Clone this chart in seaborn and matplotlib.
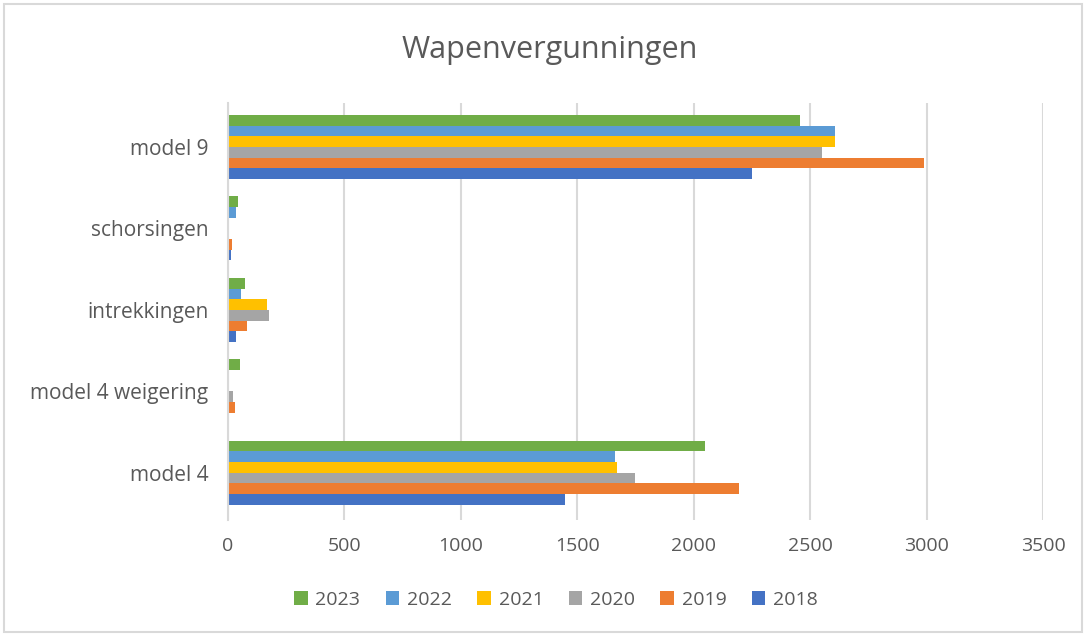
import pandas as pd
import seaborn as sns
import matplotlib.pyplot as plt
from matplotlib.patches import Rectangle

# categories top to bottom, as in the picture
categories = ['model 9', 'schorsingen', 'intrekkingen', 'model 4 weigering', 'model 4']
years = ['2023', '2022', '2021', '2020', '2019', '2018']

# values per year, same order as categories
v2023 = [2457, 44, 72, 50, 2050]
v2022 = [2605, 34, 56, 6, 1660]
v2021 = [2605, 0, 166, 5, 1672]
v2020 = [2550, 0, 176, 23, 1749]
v2019 = [2990, 17, 83, 29, 2195]
v2018 = [2249, 11, 34, 0, 1446]

colors = ['#70AD47', '#5B9BD5', '#FFC000', '#A5A5A5', '#ED7D31', '#4472C4']

rows = []
for year, vals in zip(years, [v2023, v2022, v2021, v2020, v2019, v2018]):
    for cat, v in zip(categories, vals):
        rows.append({'categorie': cat, 'jaar': year, 'aantal': v})
df = pd.DataFrame(rows)

sns.set_style('white')
plt.rcParams['font.family'] = ['Open Sans', 'DejaVu Sans']
text_col = '#595959'

fig = plt.figure(figsize=(10.87, 6.35), dpi=100)
ax = fig.add_axes([228 / 1087, 115 / 635, (1043 - 228) / 1087, (532 - 115) / 635])

sns.barplot(data=df, y='categorie', x='aantal', hue='jaar', order=categories,
            hue_order=years, palette=colors, orient='h', width=0.785,
            saturation=1, ax=ax, linewidth=0)

ax.set_xlim(0, 3500)
ax.set_ylim(4.58, -0.54)
ax.set_xticks(range(0, 3501, 500))
ax.grid(axis='x', color='#D9D9D9', linewidth=1.5)
ax.set_axisbelow(True)
for s in ['top', 'right', 'bottom']:
    ax.spines[s].set_visible(False)
ax.spines['left'].set_color('#D9D9D9')
ax.spines['left'].set_linewidth(1.5)
ax.set_xlabel('')
ax.set_ylabel('')
ax.tick_params(axis='both', length=0, colors=text_col)
ax.tick_params(axis='y', labelsize=15, pad=14)
ax.tick_params(axis='x', labelsize=14, pad=12)

fig.text(550 / 1087, 1 - 50 / 635, 'Wapenvergunningen', fontsize=22,
         color=text_col, ha='center', va='center')

handles, labels = ax.get_legend_handles_labels()
ax.get_legend().remove()
fig.legend(handles, labels, loc='center', bbox_to_anchor=(556 / 1087, 1 - 600 / 635),
           ncol=6, frameon=False, fontsize=14, labelcolor=text_col,
           handlelength=0.7, handleheight=0.7, handletextpad=0.4, columnspacing=1.3)

# light border round the chart, as in the screenshot
fig.patches.append(Rectangle((4 / 1087, 3 / 635), 1078 / 1087, 628 / 635,
                             transform=fig.transFigure, fill=False,
                             edgecolor='#D9D9D9', linewidth=1.5))

fig.savefig('out.png', dpi=100)
